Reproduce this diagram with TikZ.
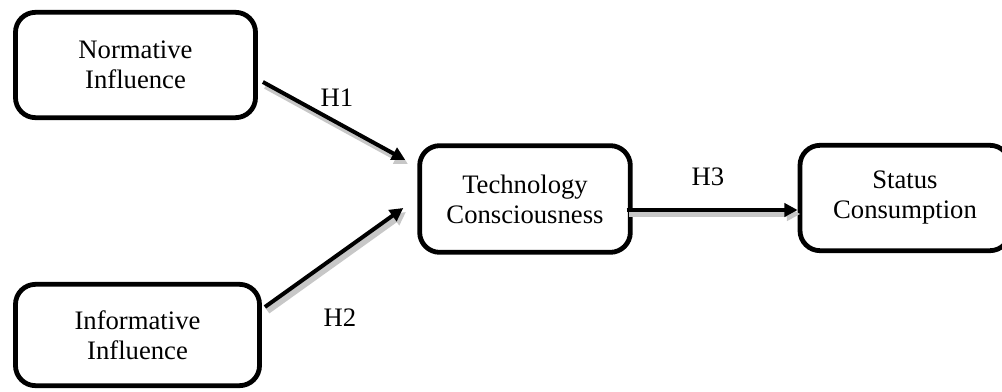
\documentclass[tikz,border=0pt]{standalone}
\usepackage{fontspec}
\setmainfont{Liberation Serif}
\usetikzlibrary{arrows.meta}

\begin{document}
\begin{tikzpicture}[x=0.75pt,y=-0.75pt,
  box/.style={draw, line width=3.6pt, rounded corners=15pt, align=center,
    font=\fontsize{20}{22.5}\selectfont},
  hyp/.style={line width=3pt, -{Triangle[length=10pt,width=10pt]},
    preaction={draw=black!22, line width=4.5pt,
      transform canvas={xshift=2pt,yshift=-3pt}}},
  lab/.style={font=\fontsize{20}{22.5}\selectfont}]
\useasboundingbox (0,0) rectangle (1002,392);

% constructs
\node[box, minimum width=180pt, minimum height=79pt] (norm) at (135.5,65) {Normative\\Influence};
\node[box, minimum width=183pt, minimum height=76pt] (info) at (137.5,335) {Informative\\Influence};
\node[box, minimum width=158pt, minimum height=80pt] (tech) at (525,199) {Technology\\Consciousness};
\node[box, minimum width=157.5pt, minimum height=79pt] (stat) at (905,198) {Status\\Consumption};

% hypotheses
\draw[hyp] ([shift={(5,17)}]norm.east) -- ([shift={(-12,-39)}]tech.west);
\draw[hyp] ([shift={(3,-28)}]info.east) -- ([shift={(-14,9)}]tech.west);
\draw[hyp] ([shift={(-6,11)}]tech.east) -- ([shift={(0,12)}]stat.west);

\node[lab] (h1) at (337,98) {H1};
\node[lab] (h2) at (340,318) {H2};
\node[lab] (h3) at (708,177) {H3};
\end{tikzpicture}
\end{document}
